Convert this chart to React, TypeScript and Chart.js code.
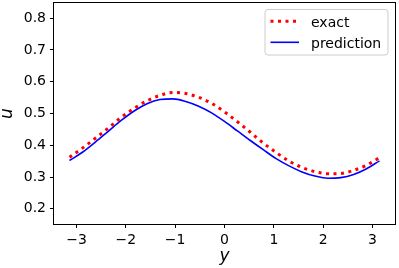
import React, { useEffect, useRef } from "react";
import { Chart, registerables } from "chart.js";

Chart.register(...registerables);

const xs = [
  -3.1416, -2.8798, -2.618, -2.3562, -2.0944, -1.8326, -1.5708, -1.309, -1.0472,
  -0.7854, -0.5236, -0.2618, 0, 0.2618, 0.5236, 0.7854, 1.0472, 1.309, 1.5708,
  1.8326, 2.0944, 2.3562, 2.618, 2.8798, 3.1416,
];
const exact = [
  0.362, 0.391, 0.422, 0.454, 0.488, 0.516, 0.54, 0.557, 0.566, 0.563, 0.551,
  0.532, 0.505, 0.474, 0.441, 0.407, 0.377, 0.35, 0.33, 0.317, 0.31, 0.311,
  0.321, 0.337, 0.361,
];
const prediction = [
  0.352, 0.378, 0.41, 0.444, 0.478, 0.508, 0.531, 0.544, 0.546, 0.538, 0.523,
  0.502, 0.475, 0.445, 0.415, 0.386, 0.358, 0.335, 0.316, 0.303, 0.296, 0.298,
  0.308, 0.326, 0.351,
];
const xTicks = [-3, -2, -1, 0, 1, 2, 3];
const yTicks = [0.2, 0.3, 0.4, 0.5, 0.6, 0.7, 0.8];
const seriesNames = ["exact", "prediction"];
const xTitle = "y";
const yTitle = "u";

const FONT = "'DejaVu Sans', sans-serif";

const zeroPad = (scale: any) => {
  scale.paddingTop = 0;
  scale.paddingBottom = 0;
  scale.paddingLeft = 0;
  scale.paddingRight = 0;
};

export default function App() {
  const ref = useRef<HTMLCanvasElement | null>(null);

  useEffect(() => {
    document.body.style.margin = "0";
    const canvas = ref.current;
    if (!canvas) return;

    const framePlugin = {
      id: "frame",
      afterDraw(chart: any) {
        const { ctx, chartArea } = chart;
        const { left, right, top, bottom } = chartArea;
        ctx.save();
        ctx.strokeStyle = "#000";
        ctx.lineWidth = 1;
        ctx.strokeRect(left - 0.5, top - 0.5, right - left + 1, bottom - top + 1);

        // axis titles
        ctx.fillStyle = "#000";
        ctx.font = `italic 17px ${FONT}`;
        ctx.textAlign = "center";
        ctx.textBaseline = "alphabetic";
        ctx.fillText(xTitle, (left + right) / 2, 260.5);
        ctx.save();
        ctx.translate(12, (top + bottom) / 2);
        ctx.rotate(-Math.PI / 2);
        ctx.fillText(yTitle, 0, 0);
        ctx.restore();

        // legend
        const bx = 265, by = 9.5, bw = 123, bh = 45.5, r = 3;
        ctx.beginPath();
        ctx.moveTo(bx + r, by);
        ctx.lineTo(bx + bw - r, by);
        ctx.quadraticCurveTo(bx + bw, by, bx + bw, by + r);
        ctx.lineTo(bx + bw, by + bh - r);
        ctx.quadraticCurveTo(bx + bw, by + bh, bx + bw - r, by + bh);
        ctx.lineTo(bx + r, by + bh);
        ctx.quadraticCurveTo(bx, by + bh, bx, by + bh - r);
        ctx.lineTo(bx, by + r);
        ctx.quadraticCurveTo(bx, by, bx + r, by);
        ctx.closePath();
        ctx.fillStyle = "rgba(255,255,255,0.8)";
        ctx.fill();
        ctx.strokeStyle = "#cccccc";
        ctx.lineWidth = 1;
        ctx.stroke();

        // exact sample
        ctx.beginPath();
        ctx.strokeStyle = "#ff0000";
        ctx.lineWidth = 3;
        ctx.setLineDash([3, 4.5]);
        ctx.moveTo(270.5, 21.3);
        ctx.lineTo(300, 21.3);
        ctx.stroke();
        ctx.setLineDash([]);
        // prediction sample
        ctx.beginPath();
        ctx.strokeStyle = "#0000ff";
        ctx.lineWidth = 1.6;
        ctx.moveTo(270.5, 42.3);
        ctx.lineTo(299, 42.3);
        ctx.stroke();

        ctx.fillStyle = "#000";
        ctx.font = `14px ${FONT}`;
        ctx.textAlign = "left";
        ctx.textBaseline = "alphabetic";
        ctx.fillText(seriesNames[0], 311, 26.5);
        ctx.fillText(seriesNames[1], 311, 47.5);
        ctx.restore();
      },
    };

    const chart = new Chart(canvas, {
      type: "scatter",
      data: {
        datasets: [
          {
            label: seriesNames[0],
            data: xs.map((x, i) => ({ x, y: exact[i] })),
            showLine: true,
            borderColor: "#ff0000",
            borderWidth: 3,
            borderDash: [3, 4.5],
            borderCapStyle: "butt",
            pointRadius: 0,
            cubicInterpolationMode: "monotone",
            fill: false,
          },
          {
            label: seriesNames[1],
            data: xs.map((x, i) => ({ x, y: prediction[i] })),
            showLine: true,
            borderColor: "#0000ff",
            borderWidth: 1.6,
            pointRadius: 0,
            cubicInterpolationMode: "monotone",
            fill: false,
          },
        ],
      },
      options: {
        responsive: false,
        animation: false,
        layout: { padding: { top: 3, right: 4, left: 0, bottom: 0 } },
        plugins: {
          legend: { display: false },
          tooltip: { enabled: false },
          title: { display: false },
        },
        scales: {
          x: {
            type: "linear",
            min: -3.456,
            max: 3.456,
            afterBuildTicks: (scale: any) => {
              scale.ticks = xTicks.map((v) => ({ value: v }));
            },
            afterFit: (scale: any) => {
              scale.height = 44;
              zeroPad(scale);
            },
            grid: {
              display: true,
              drawOnChartArea: false,
              drawTicks: true,
              tickLength: 4,
              color: "#000",
            },
            border: { display: false },
            ticks: {
              color: "#000",
              font: { family: FONT, size: 14 },
              padding: 3.5,
              maxRotation: 0,
              autoSkip: false,
              callback: (v: any) => String(v).replace("-", "\u2212"),
            },
          },
          y: {
            type: "linear",
            min: 0.152,
            max: 0.848,
            afterBuildTicks: (scale: any) => {
              scale.ticks = yTicks.map((v) => ({ value: v }));
            },
            afterFit: (scale: any) => {
              scale.width = 54;
              zeroPad(scale);
            },
            grid: {
              display: true,
              drawOnChartArea: false,
              drawTicks: true,
              tickLength: 4,
              color: "#000",
            },
            border: { display: false },
            ticks: {
              color: "#000",
              font: { family: FONT, size: 14 },
              padding: 4,
              autoSkip: false,
              callback: (v: any) => Number(v).toFixed(1),
            },
          },
        },
      },
      plugins: [framePlugin],
    } as any);

    return () => chart.destroy();
  }, []);

  return (
    <div style={{ width: 399, height: 268 }}>
      <canvas ref={ref} width={399} height={268} style={{ display: "block" }} />
    </div>
  );
}
